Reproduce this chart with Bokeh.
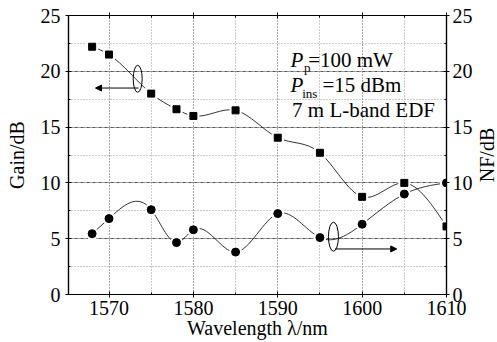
import math
import numpy as np
from bokeh.plotting import figure
from bokeh.layouts import row
from bokeh.models import (Range1d, LinearAxis, SingleIntervalTicker, Label, Arrow,
                          NormalHead, ColumnDataSource)
from bokeh.embed import file_html
from bokeh.resources import INLINE

# ---- data ----
wavelength = [1568, 1570, 1575, 1578, 1580, 1585, 1590, 1595, 1600, 1605, 1610]
gain_db = [22.2, 21.5, 18.0, 16.6, 16.0, 16.5, 14.05, 12.7, 8.75, 10.0, 6.1]
nf_db = [5.45, 6.8, 7.6, 4.65, 5.8, 3.8, 7.25, 5.1, 6.3, 9.0, 10.0]

x_ticks = [1570, 1580, 1590, 1600, 1610]
y_ticks = [0, 5, 10, 15, 20, 25]

FONT = "Liberation Serif"


def spline_bezier(xs, ys):
    """Natural cubic spline through the points, as cubic Bezier segments."""
    x = np.asarray(xs, float)
    y = np.asarray(ys, float)
    n = len(x)
    h = np.diff(x)
    A = np.zeros((n, n))
    b = np.zeros(n)
    A[0, 0] = 1
    A[-1, -1] = 1
    for i in range(1, n - 1):
        A[i, i - 1] = h[i - 1]
        A[i, i] = 2 * (h[i - 1] + h[i])
        A[i, i + 1] = h[i]
        b[i] = 6 * ((y[i + 1] - y[i]) / h[i] - (y[i] - y[i - 1]) / h[i - 1])
    M = np.linalg.solve(A, b)
    d = np.zeros(n)
    for i in range(n - 1):
        d[i] = (y[i + 1] - y[i]) / h[i] - h[i] * (2 * M[i] + M[i + 1]) / 6
    d[-1] = (y[-1] - y[-2]) / h[-1] + h[-1] * (M[-2] + 2 * M[-1]) / 6
    return dict(
        x0=x[:-1], y0=y[:-1], x1=x[1:], y1=y[1:],
        cx0=x[:-1] + h / 3, cy0=y[:-1] + d[:-1] * h / 3,
        cx1=x[1:] - h / 3, cy1=y[1:] - d[1:] * h / 3,
    )


main = figure(width=475, height=342, output_backend="svg", toolbar_location=None,
              x_range=Range1d(1565.2, 1610), y_range=Range1d(0, 25),
              min_border_left=68, min_border_right=29, min_border_top=15,
              min_border_bottom=48)
main.outline_line_color = "black"
main.outline_line_width = 1.2
main.background_fill_color = "white"
main.border_fill_color = "white"

# grids
main.xaxis.ticker = SingleIntervalTicker(interval=10, num_minor_ticks=2)
main.yaxis.ticker = SingleIntervalTicker(interval=5, num_minor_ticks=2)
main.xgrid.grid_line_color = "#888888"
main.xgrid.grid_line_dash = "1 2"
main.xgrid.minor_grid_line_color = "#999999"
main.xgrid.minor_grid_line_dash = "1 2"
main.ygrid.grid_line_color = "#555555"
main.ygrid.grid_line_dash = "3 1 1 1"
main.ygrid.minor_grid_line_color = "#999999"
main.ygrid.minor_grid_line_dash = "1 2"


def style_axis(ax, labels=True):
    ax.axis_line_color = "black"
    ax.axis_line_width = 1.2
    ax.major_tick_in = 3
    ax.major_tick_out = 3
    ax.minor_tick_in = 2
    ax.minor_tick_out = 0
    ax.major_tick_line_color = "black"
    ax.minor_tick_line_color = "black"
    ax.major_label_text_font = FONT
    ax.major_label_text_font_size = "20px"
    ax.major_label_text_font_style = "normal"
    ax.major_label_text_color = "black"
    ax.axis_label_text_font = FONT
    ax.axis_label_text_font_size = "20px"
    ax.axis_label_text_font_style = "normal"
    ax.axis_label_text_color = "black"
    if not labels:
        ax.major_label_text_font_size = "0px"
        ax.major_label_text_alpha = 0


xa = main.xaxis[0]
style_axis(xa)
xa.ticker = SingleIntervalTicker(interval=10, num_minor_ticks=2)
xa.axis_label = "Wavelength λ/nm"
xa.major_label_standoff = 3
xa.axis_label_standoff = -1

ya = main.yaxis[0]
style_axis(ya)
ya.ticker = SingleIntervalTicker(interval=5, num_minor_ticks=2)
ya.axis_label = "Gain/dB"
ya.major_label_standoff = 5
ya.axis_label_standoff = 10

top = LinearAxis(ticker=SingleIntervalTicker(interval=10, num_minor_ticks=2))
style_axis(top, labels=False)
main.add_layout(top, "above")

right = LinearAxis(ticker=SingleIntervalTicker(interval=5, num_minor_ticks=2))
style_axis(right)
right.major_label_standoff = 3
main.add_layout(right, "right")

# curves
g = ColumnDataSource(spline_bezier(wavelength, gain_db))
n = ColumnDataSource(spline_bezier(wavelength, nf_db))
main.bezier(x0="x0", y0="y0", x1="x1", y1="y1", cx0="cx0", cy0="cy0",
            cx1="cx1", cy1="cy1", source=g, line_color="black", line_width=0.8)
main.bezier(x0="x0", y0="y0", x1="x1", y1="y1", cx0="cx0", cy0="cy0",
            cx1="cx1", cy1="cy1", source=n, line_color="black", line_width=0.8)

# white halo under the markers so the curves stop just short of them
main.scatter(wavelength, gain_db, marker="square", size=11, color="white")
main.scatter(wavelength, nf_db, marker="circle", size=12, color="white")
main.scatter(wavelength, gain_db, marker="square", size=7, color="black")
main.scatter(wavelength, nf_db, marker="circle", size=8, color="black")

# ellipses and arrows marking which axis each curve uses
main.ellipse(x=[1573.4], y=[19.33], width=9, height=27, width_units="screen",
             height_units="screen", fill_color=None, line_color="black", line_width=1)
main.ellipse(x=[1596.6], y=[5.18], width=10, height=29, width_units="screen",
             height_units="screen", fill_color=None, line_color="black", line_width=1)
main.add_layout(Arrow(end=NormalHead(size=6, fill_color="black", line_color="black"),
                      x_start=1573.5, y_start=18.5, x_end=1568.4, y_end=18.5,
                      line_color="black", line_width=1))
main.add_layout(Arrow(end=NormalHead(size=6, fill_color="black", line_color="black"),
                      x_start=1596.8, y_start=4.08, x_end=1604.1, y_end=4.08,
                      line_color="black", line_width=1))


# text annotations
def lab(x, y, text, size="21px", style="normal"):
    main.add_layout(Label(x=x, y=y, text=text, text_font=FONT, text_font_size=size,
                          text_font_style=style, text_color="black",
                          text_baseline="alphabetic", text_align="left"))


lab(1591.5, 21.0, "P", style="italic")
lab(1593.1, 20.3, "p", size="13px")
lab(1593.6, 21.0, "=100 mW")
lab(1591.5, 18.75, "P", style="italic")
lab(1592.9, 18.05, "ins", size="13px")
lab(1595.3, 18.75, "=15 dBm")
lab(1591.7, 16.5, "7 m L-band EDF")

# narrow strip on the right that holds the right-axis title (reads bottom-to-top)
side = figure(width=22, height=342, output_backend="svg", toolbar_location=None,
              x_range=Range1d(0, 1), y_range=main.y_range,
              x_axis_location=None, y_axis_location=None,
              min_border_left=0, min_border_right=0, min_border_top=15,
              min_border_bottom=48)
side.outline_line_color = None
side.grid.visible = False
side.background_fill_color = "white"
side.border_fill_color = "white"
side.add_layout(Label(x=0.5, y=12.5, text="NF/dB", angle=math.pi / 2,
                      text_font=FONT, text_font_size="20px", text_color="black",
                      text_align="center", text_baseline="middle"))

p = row(main, side, spacing=0)

open("out.html", "w").write(file_html(p, INLINE))
